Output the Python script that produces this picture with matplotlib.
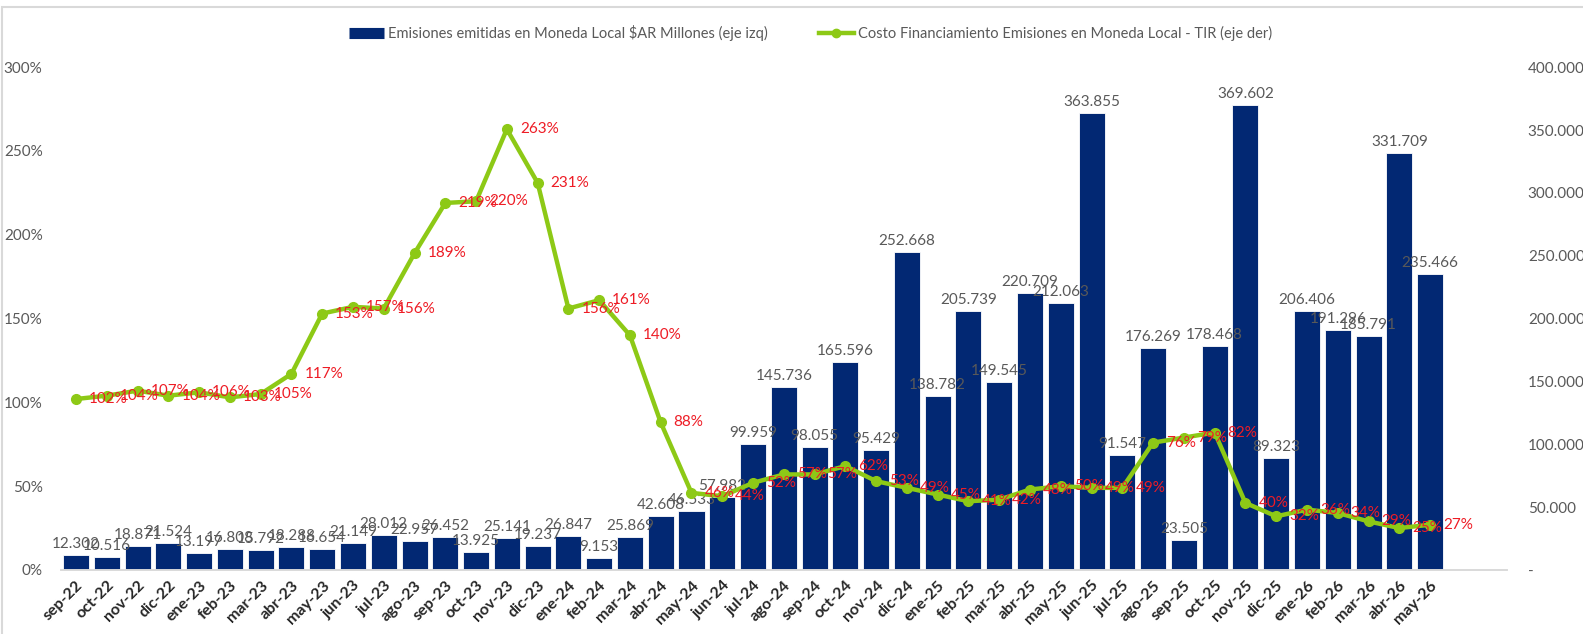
import numpy as np
import matplotlib
matplotlib.use('Agg')
import matplotlib.pyplot as plt
from matplotlib.lines import Line2D
from matplotlib.patches import Rectangle
from matplotlib.ticker import FuncFormatter

#==============================================================================
#DATA
#==============================================================================

months = ['sep-22', 'oct-22', 'nov-22', 'dic-22', 'ene-23', 'feb-23', 'mar-23',
          'abr-23', 'may-23', 'jun-23', 'jul-23', 'ago-23', 'sep-23', 'oct-23',
          'nov-23', 'dic-23', 'ene-24', 'feb-24', 'mar-24', 'abr-24', 'may-24',
          'jun-24', 'jul-24', 'ago-24', 'sep-24', 'oct-24', 'nov-24', 'dic-24',
          'ene-25', 'feb-25', 'mar-25', 'abr-25', 'may-25', 'jun-25', 'jul-25',
          'ago-25', 'sep-25', 'oct-25', 'nov-25', 'dic-25', 'ene-26', 'feb-26',
          'mar-26', 'abr-26', 'may-26']

# emisiones en moneda local, $AR millones
emisiones = [12302, 10516, 18871, 21524, 13197, 16808, 15792, 18288, 16654,
             21149, 28012, 22957, 26452, 13925, 25141, 19237, 26847, 9153,
             25869, 42608, 46533, 57982, 99959, 145736, 98055, 165596, 95429,
             252668, 138782, 205739, 149545, 220709, 212063, 363855, 91547,
             176269, 23505, 178468, 369602, 89323, 206406, 191296, 185791,
             331709, 235466]

# TIR en %
tir = [102, 104, 107, 104, 106, 103, 105, 117, 153, 157, 156, 189, 219, 220,
       263, 231, 156, 161, 140, 88, 46, 44, 52, 57, 57, 62, 53, 49, 45, 41,
       42, 48, 50, 49, 49, 76, 79, 82, 40, 32, 36, 34, 29, 25, 27]

bar_label = 'Emisiones emitidas en Moneda Local $AR Millones (eje izq)'
line_label = 'Costo Financiamiento Emisiones en Moneda Local - TIR (eje der)'

#==============================================================================
#SETTINGS
#==============================================================================

plt.rcParams['font.family'] = ['Lato', 'DejaVu Sans']
bar_col = '#022873'
line_col = '#8DC916'
grey = '#595959'
lab_font = 11

#==============================================================================
#PLOT
#==============================================================================

f = plt.figure(figsize=(15.83, 6.34), dpi=100)
ax = f.add_axes([0.0383, 0.101, 0.9137, 0.793])
ax2 = ax.twinx()

x = np.arange(len(months))

# bars on the 0-400.000 scale (drawn right side)
bars = ax.bar(x, emisiones, width=0.845, color=bar_col, edgecolor='white',
              linewidth=0.6, zorder=2)
ax.set_ylim(0, 400000)
ax.set_xlim(-0.5, 46.5)
ax.yaxis.tick_right()
ax.set_yticks(np.arange(0, 400001, 50000))
ax.yaxis.set_major_formatter(FuncFormatter(
    lambda v, p: '-' if v == 0 else '{:,.0f}'.format(v).replace(',', '.')))
ax.tick_params(axis='y', length=0, pad=15, labelsize=lab_font, labelcolor=grey)

for xi, v in zip(x, emisiones):
    ax.annotate('{:,.0f}'.format(v).replace(',', '.'), (xi, v),
                xytext=(0, 4), textcoords='offset pixels', ha='center',
                va='bottom', fontsize=lab_font, color=grey, zorder=3)

# line on the 0-300% scale (drawn left side)
ax2.plot(x, tir, color=line_col, lw=3.2, marker='o', ms=7, zorder=4)
ax2.set_ylim(0, 300)
ax2.yaxis.tick_left()
ax2.set_yticks(np.arange(0, 301, 50))
ax2.yaxis.set_major_formatter(FuncFormatter(lambda v, p: '{:.0f}%'.format(v)))
ax2.tick_params(axis='y', length=0, pad=13, labelsize=lab_font, labelcolor=grey)

for xi, v in zip(x, tir):
    ax2.annotate('{}%'.format(v), (xi, v), xytext=(13, 0),
                 textcoords='offset pixels', ha='left', va='center',
                 fontsize=lab_font, color='#EE1C25', zorder=5)

ax.set_xticks(x)
ax.set_xticklabels(months, rotation=45, ha='right', rotation_mode='anchor',
                   fontsize=11.5, fontweight='bold', color='#262626')
ax.tick_params(axis='x', length=0, pad=6)

for a in (ax, ax2):
    for s in ['top', 'left', 'right']:
        a.spines[s].set_visible(False)
    a.spines['bottom'].set_color('#D9D9D9')
    a.spines['bottom'].set_linewidth(1.2)

#==============================================================================
#LEGEND
#==============================================================================

h1 = Line2D([], [], color=bar_col, lw=8, solid_capstyle='butt')
h2 = Line2D([], [], color=line_col, lw=3.2, marker='o', ms=6)
f.legend([h1, h2], [bar_label, line_label], loc='center',
         bbox_to_anchor=(0.512, 0.948), ncol=2, frameon=False,
         fontsize=10.5, handlelength=2.4, handletextpad=0.3,
         columnspacing=3.5, labelcolor=grey)

# light border of the chart area
f.patches.append(Rectangle((0.0015, -0.1), 1.2, 1.089, transform=f.transFigure,
                           fill=False, edgecolor='#D9D9D9', lw=1.5))

f.savefig('out.png', dpi=100)
